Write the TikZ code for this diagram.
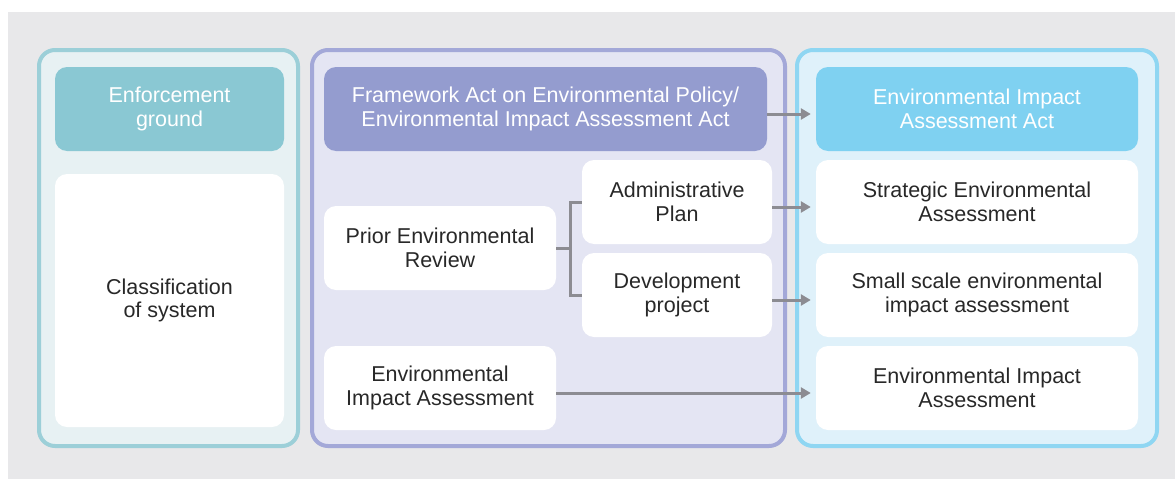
\documentclass[tikz,border=0pt]{standalone}
\usepackage{fontspec}
\setmainfont{Liberation Sans}
\usepackage{tikz}
\usetikzlibrary{arrows.meta}
\definecolor{pagegray}{RGB}{232, 232, 234}
\definecolor{tealline}{RGB}{156, 207, 216}
\definecolor{tealfill}{RGB}{231, 241, 243}
\definecolor{tealhead}{RGB}{138, 200, 211}
\definecolor{violetline}{RGB}{163, 168, 216}
\definecolor{violetfill}{RGB}{228, 229, 243}
\definecolor{violethead}{RGB}{148, 156, 207}
\definecolor{skyline}{RGB}{143, 214, 242}
\definecolor{skyfill}{RGB}{223, 241, 250}
\definecolor{skyhead}{RGB}{127, 209, 241}
\definecolor{linkgray}{RGB}{140, 140, 146}
\definecolor{textgray}{RGB}{40, 40, 40}

\begin{document}
\begin{tikzpicture}[x=1pt, y=-1pt,
  every node/.style={align=center, font=\fontsize{21.5}{23.5}\selectfont},
  panel/.style={rounded corners=16pt, line width=4pt},
  headbox/.style={rounded corners=12pt, text=white, minimum height=84pt},
  itembox/.style={rounded corners=12pt, fill=white, text=textgray, minimum height=84pt},
  arr/.style={draw=linkgray, line width=3pt, -{Triangle[length=10pt, width=11pt]}, shorten >=5pt},
  brk/.style={draw=linkgray, line width=3pt}
]
\useasboundingbox (0,0) rectangle (1175,479);
\fill[white] (0,0) rectangle (1175,479);
\fill[pagegray] (8,12) rectangle (1175,479);

\draw[panel, draw=tealline, fill=tealfill] (39,50) rectangle (298,446);
\draw[panel, draw=violetline, fill=violetfill] (312,50) rectangle (785,446);
\draw[panel, draw=skyline, fill=skyfill] (797,50) rectangle (1157,446);

\node[headbox, fill=tealhead, minimum width=229pt] (enf) at (169.5,109) {Enforcement\\ground};
\node[itembox, minimum width=229pt, minimum height=253pt] (cls) at (169.5,300.5) {Classification\\of system};

\node[headbox, fill=violethead, minimum width=443pt] (fwact) at (545.5,109) {Framework Act on Environmental Policy/\\Environmental Impact Assessment Act};
\node[itembox, minimum width=232pt] (prior) at (440,248) {Prior Environmental\\Review};
\node[itembox, minimum width=190pt] (adm) at (677,202) {Administrative\\Plan};
\node[itembox, minimum width=190pt] (dev) at (677,295) {Development\\project};
\node[itembox, minimum width=232pt] (eiamid) at (440,388) {Environmental\\Impact Assessment};

\node[headbox, fill=skyhead, minimum width=322pt] (eiaact) at (977,109) {Environmental Impact\\Assessment Act};
\node[itembox, minimum width=322pt] (sea) at (977,202) {Strategic Environmental\\Assessment};
\node[itembox, minimum width=322pt] (sseia) at (977,295) {Small scale environmental\\impact assessment};
\node[itembox, minimum width=322pt] (eia) at (977,388) {Environmental Impact\\Assessment};

\draw[brk] (prior.east) -- ++(14,0) coordinate (fork);
\draw[brk] (adm.west) -| (fork) |- (dev.west);

\draw[arr] ([yshift=-5pt]fwact.east) -- ([yshift=-5pt]eiaact.west);
\draw[arr] ([yshift=-5pt]adm.east) -- ([yshift=-5pt]sea.west);
\draw[arr] ([yshift=-5pt]dev.east) -- ([yshift=-5pt]sseia.west);
\draw[arr] ([yshift=-5pt]eiamid.east) -- ([yshift=-5pt]eia.west);
\end{tikzpicture}
\end{document}
